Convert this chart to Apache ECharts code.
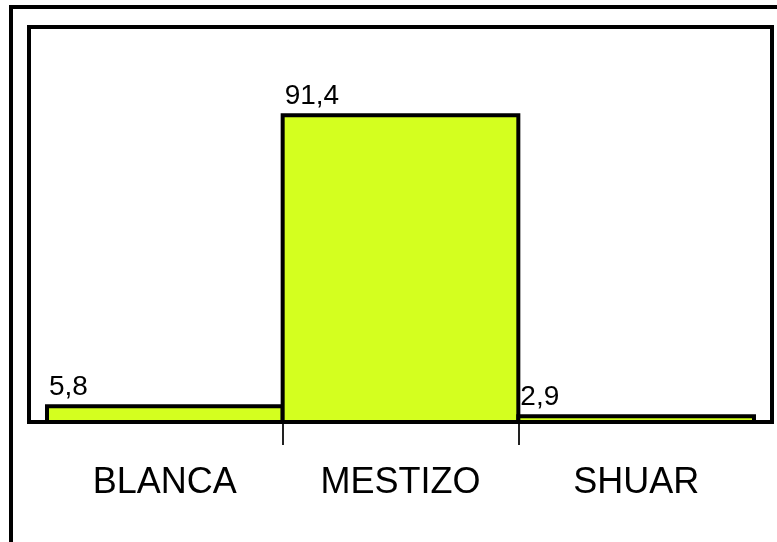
<!DOCTYPE html>
<html>
<head>
<meta charset="utf-8">
<script src="https://cdn.jsdelivr.net/npm/echarts@6/dist/echarts.min.js"></script>
<style>
  html, body { margin: 0; padding: 0; background: #fff; }
  #chart { width: 777px; height: 542px; }
</style>
</head>
<body>
<div id="chart"></div>
<script>
const categories = ['BLANCA', 'MESTIZO', 'SHUAR'];
const percentages = [5.8, 91.4, 2.9];

document.addEventListener('DOMContentLoaded', function() {
    const dom = document.getElementById('chart');
    const myChart = echarts.init(dom, null, { renderer: 'canvas' });

    // bars touch each other; border is drawn inset by half its width
    const borderW = 4;
    const bandW = 707 / categories.length;

    const option = {
        backgroundColor: '#fff',
        animation: false,
        textStyle: { fontFamily: 'Liberation Sans, Arial, sans-serif' },
        graphic: [
            // outer frame, runs off the right/bottom edge
            {
                type: 'rect',
                shape: { x: 11, y: 7, width: 800, height: 600 },
                style: { fill: 'none', stroke: '#000', lineWidth: 4 },
                z: 10
            },
            // plot frame
            {
                type: 'rect',
                shape: { x: 29, y: 27, width: 743, height: 395 },
                style: { fill: 'none', stroke: '#000', lineWidth: 4 },
                z: 10
            }
        ],
        grid: [
            { left: 47, top: 84, width: 707, height: 340 },
            { left: 47, top: 424, width: 707, height: 21 }
        ],
        xAxis: [
            {
                type: 'category',
                gridIndex: 0,
                data: categories,
                axisLine: { show: false },
                axisTick: { show: false },
                axisLabel: {
                    margin: 41,
                    color: '#000',
                    fontSize: 36,
                    fontFamily: 'Liberation Sans, Arial, sans-serif'
                }
            },
            {
                type: 'category',
                gridIndex: 1,
                data: categories,
                axisLine: { show: false },
                axisTick: { show: false },
                axisLabel: { show: false },
                splitLine: {
                    show: true,
                    showMinLine: false,
                    showMaxLine: false,
                    lineStyle: { color: '#222', width: 2 }
                }
            }
        ],
        yAxis: [
            { type: 'value', gridIndex: 0, min: 0, max: 100, show: false },
            { type: 'value', gridIndex: 1, min: 0, max: 1, show: false }
        ],
        series: [{
            name: 'Etnia',
            type: 'bar',
            xAxisIndex: 0,
            yAxisIndex: 0,
            data: percentages,
            barWidth: bandW + borderW,
            itemStyle: { color: '#d4ff1f', borderColor: '#000', borderWidth: borderW },
            label: {
                show: true,
                position: [4, -3],
                align: 'left',
                verticalAlign: 'bottom',
                color: '#000',
                fontSize: 28,
                fontFamily: 'Liberation Sans, Arial, sans-serif',
                formatter: p => String(p.value).replace('.', ',')
            }
        }]
    };

    myChart.setOption(option);
    window.addEventListener('resize', () => myChart.resize());
});
</script>
</body>
</html>
